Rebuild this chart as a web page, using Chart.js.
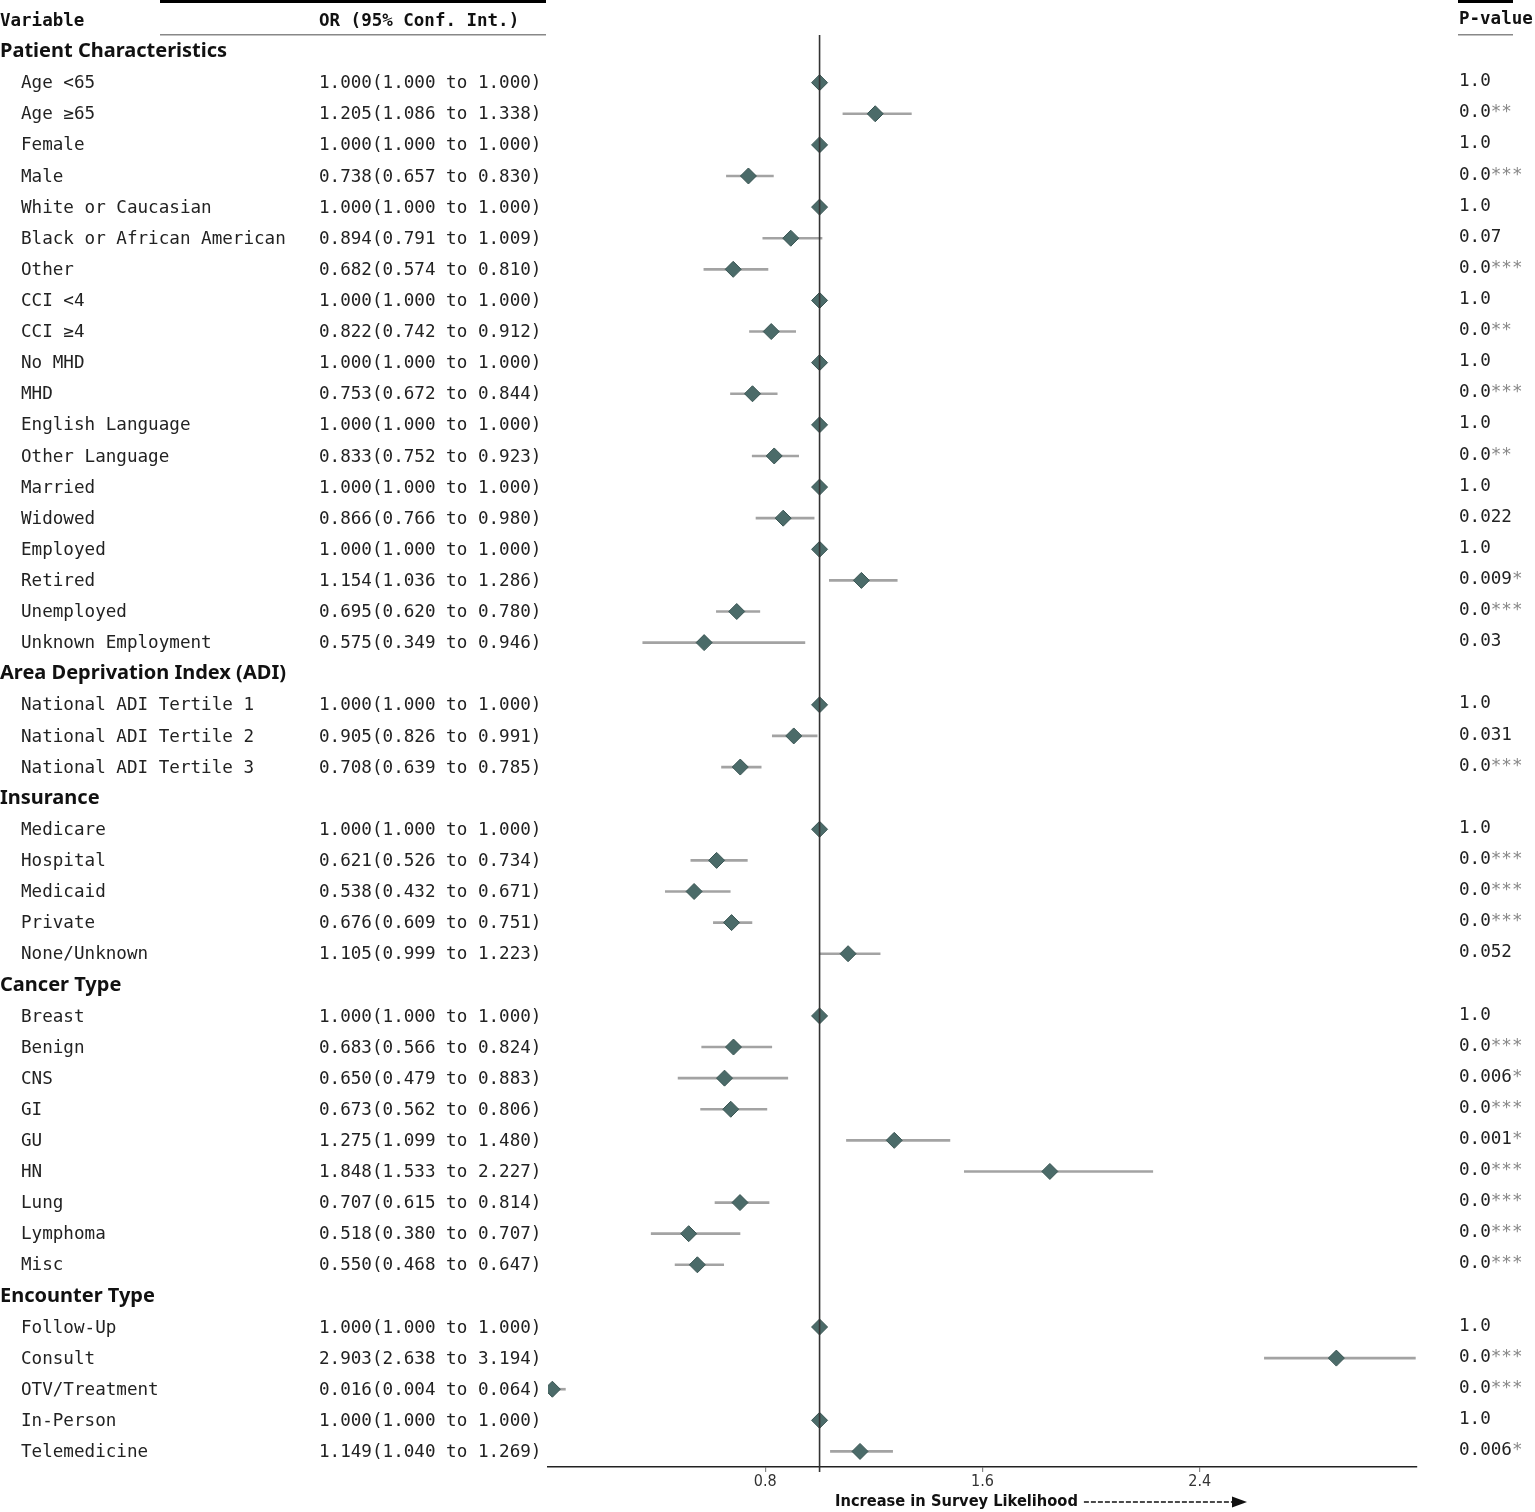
<!DOCTYPE html>
<html>
<head>
<meta charset="utf-8">
<script src="https://cdn.jsdelivr.net/npm/chart.js@4.4.1/dist/chart.umd.min.js"></script>
<style>
html,body{margin:0;padding:0;background:#fff;}
#wrap{width:1535px;height:1512px;position:relative;}
</style>
</head>
<body>
<div id="wrap"><canvas id="c" width="1535" height="1512"></canvas></div>
<script>
const categories = [
  'Patient Characteristics',
  'Age <65','Age \u226565','Female','Male','White or Caucasian','Black or African American','Other',
  'CCI <4','CCI \u22654','No MHD','MHD','English Language','Other Language','Married','Widowed',
  'Employed','Retired','Unemployed','Unknown Employment',
  'Area Deprivation Index (ADI)',
  'National ADI Tertile 1','National ADI Tertile 2','National ADI Tertile 3',
  'Insurance',
  'Medicare','Hospital','Medicaid','Private','None/Unknown',
  'Cancer Type',
  'Breast','Benign','CNS','GI','GU','HN','Lung','Lymphoma','Misc',
  'Encounter Type',
  'Follow-Up','Consult','OTV/Treatment','In-Person','Telemedicine'
];
const sectionHeaders = ['Patient Characteristics','Area Deprivation Index (ADI)','Insurance','Cancer Type','Encounter Type'];

const oddsRatios = [
  null,
  1.000,1.205,1.000,0.738,1.000,0.894,0.682,
  1.000,0.822,1.000,0.753,1.000,0.833,1.000,0.866,
  1.000,1.154,0.695,0.575,
  null,
  1.000,0.905,0.708,
  null,
  1.000,0.621,0.538,0.676,1.105,
  null,
  1.000,0.683,0.650,0.673,1.275,1.848,0.707,0.518,0.550,
  null,
  1.000,2.903,0.016,1.000,1.149
];
const ciLower = [
  null,
  1.000,1.086,1.000,0.657,1.000,0.791,0.574,
  1.000,0.742,1.000,0.672,1.000,0.752,1.000,0.766,
  1.000,1.036,0.620,0.349,
  null,
  1.000,0.826,0.639,
  null,
  1.000,0.526,0.432,0.609,0.999,
  null,
  1.000,0.566,0.479,0.562,1.099,1.533,0.615,0.380,0.468,
  null,
  1.000,2.638,0.004,1.000,1.040
];
const ciUpper = [
  null,
  1.000,1.338,1.000,0.830,1.000,1.009,0.810,
  1.000,0.912,1.000,0.844,1.000,0.923,1.000,0.980,
  1.000,1.286,0.780,0.946,
  null,
  1.000,0.991,0.785,
  null,
  1.000,0.734,0.671,0.751,1.223,
  null,
  1.000,0.824,0.883,0.806,1.480,2.227,0.814,0.707,0.647,
  null,
  1.000,3.194,0.064,1.000,1.269
];
const pValues = [
  null,
  '1.0','0.0','1.0','0.0','1.0','0.07','0.0',
  '1.0','0.0','1.0','0.0','1.0','0.0','1.0','0.022',
  '1.0','0.009','0.0','0.03',
  null,
  '1.0','0.031','0.0',
  null,
  '1.0','0.0','0.0','0.0','0.052',
  null,
  '1.0','0.0','0.006','0.0','0.001','0.0','0.0','0.0','0.0',
  null,
  '1.0','0.0','0.0','1.0','0.006'
];
const pStars = [
  null,
  '','**','','***','','','***',
  '','**','','***','','**','','',
  '','*','***','',
  null,
  '','','***',
  null,
  '','***','***','***','',
  null,
  '','***','*','***','*','***','***','***','***',
  null,
  '','***','***','','*'
];
const xTicks = [0.8, 1.6, 2.4];
const xMin = 0, xMax = 3.2, refValue = 1;

const MONO = '"DejaVu Sans Mono", "Liberation Mono", monospace';
const SANS = '"Noto Sans", "Open Sans", sans-serif';
const COND = '"DejaVu Sans Condensed", "Liberation Sans Narrow", "DejaVu Sans", sans-serif';

const forestPlugin = {
  id: 'forestText',
  afterDatasetsDraw(chart) {
    const {ctx, chartArea, scales: {x}} = chart;
    const px = x.getPixelForValue(refValue);
    ctx.save();
    ctx.strokeStyle = '#333';
    ctx.lineWidth = 1.6;
    ctx.beginPath();
    ctx.moveTo(px, chartArea.top - 1);
    ctx.lineTo(px, chartArea.bottom + 5);
    ctx.stroke();
    ctx.restore();
  },
  afterDraw(chart) {
    const {ctx, scales: {y}} = chart;
    ctx.save();
    ctx.textBaseline = 'middle';
    ctx.textAlign = 'left';
    // column headers
    ctx.fillStyle = '#111';
    ctx.font = 'bold 17.5px ' + MONO;
    ctx.fillText('Variable', 0, 21);
    ctx.fillText('OR (95% Conf. Int.)', 319, 21);
    ctx.fillText('P-value', 1459, 19);
    ctx.fillStyle = '#000';
    ctx.fillRect(160, 0, 386, 3);
    ctx.fillRect(1458, 0, 55, 3);
    ctx.fillStyle = '#888';
    ctx.fillRect(160, 34, 386, 1.5);
    ctx.fillRect(1458, 34, 55, 1.5);

    categories.forEach((cat, i) => {
      const yy = y.getPixelForValue(i);
      if (sectionHeaders.includes(cat)) {
        ctx.fillStyle = '#111';
        ctx.font = 'bold 20px ' + SANS;
        ctx.fillText(cat, 0, yy);
        return;
      }
      ctx.fillStyle = '#222';
      ctx.font = '17.6px ' + MONO;
      ctx.fillText(cat, 21, yy + 1);
      const txt = oddsRatios[i].toFixed(3) + '(' + ciLower[i].toFixed(3) + ' to ' + ciUpper[i].toFixed(3) + ')';
      ctx.fillText(txt, 319, yy + 1);
      const pv = pValues[i];
      ctx.fillText(pv, 1459, yy - 1);
      if (pStars[i]) {
        const w = ctx.measureText(pv).width;
        ctx.fillStyle = '#888';
        ctx.fillText(pStars[i], 1459 + w, yy - 1);
      }
    });

    // x-axis title with arrow
    ctx.fillStyle = '#111';
    ctx.font = 'bold 16.3px ' + COND;
    const title = 'Increase in Survey Likelihood';
    ctx.fillText(title, 835, 1502);
    const tw = ctx.measureText(title).width;
    const ax0 = 835 + tw + 6, ax1 = 1247, ay = 1502;
    ctx.strokeStyle = '#111';
    ctx.lineWidth = 1.5;
    ctx.setLineDash([5, 2]);
    ctx.beginPath();
    ctx.moveTo(ax0, ay);
    ctx.lineTo(ax1 - 12, ay);
    ctx.stroke();
    ctx.setLineDash([]);
    ctx.beginPath();
    ctx.moveTo(ax1, ay);
    ctx.lineTo(ax1 - 15, ay - 5.5);
    ctx.lineTo(ax1 - 15, ay + 5.5);
    ctx.closePath();
    ctx.fill();
    ctx.restore();
  }
};

new Chart(document.getElementById('c').getContext('2d'), {
  type: 'bar',
  data: {
    labels: categories,
    datasets: [
      {
        type: 'line',
        data: oddsRatios,
        showLine: false,
        pointStyle: 'rectRot',
        pointRadius: 8,
        pointHoverRadius: 8,
        pointBackgroundColor: '#4b6b69',
        pointBorderColor: '#3a5553',
        pointBorderWidth: 1,
        order: 1
      },
      {
        type: 'bar',
        data: ciLower.map((lo, i) => lo == null ? null : [lo, ciUpper[i]]),
        backgroundColor: '#a3a3a3',
        borderWidth: 0,
        barThickness: 2,
        order: 2
      }
    ]
  },
  options: {
    indexAxis: 'y',
    responsive: false,
    animation: false,
    devicePixelRatio: 1,
    layout: {padding: {left: 548, right: 118, top: 36, bottom: 0}},
    plugins: {legend: {display: false}, tooltip: {enabled: false}},
    scales: {
      x: {
        type: 'linear',
        min: xMin,
        max: xMax,
        afterBuildTicks(s) { s.ticks = xTicks.map(v => ({value: v})); },
        afterFit(s) { s.height = 45; },
        grid: {display: true, drawOnChartArea: false, drawTicks: true, tickLength: 5, color: '#888', lineWidth: 1.2},
        border: {display: true, color: '#222', width: 1.5},
        ticks: {
          padding: 0,
          color: '#333',
          font: {family: COND, size: 16},
          callback: v => Number(v).toFixed(1)
        }
      },
      y: {
        type: 'category',
        display: false,
        offset: true
      }
    }
  },
  plugins: [forestPlugin]
});
</script>
</body>
</html>
